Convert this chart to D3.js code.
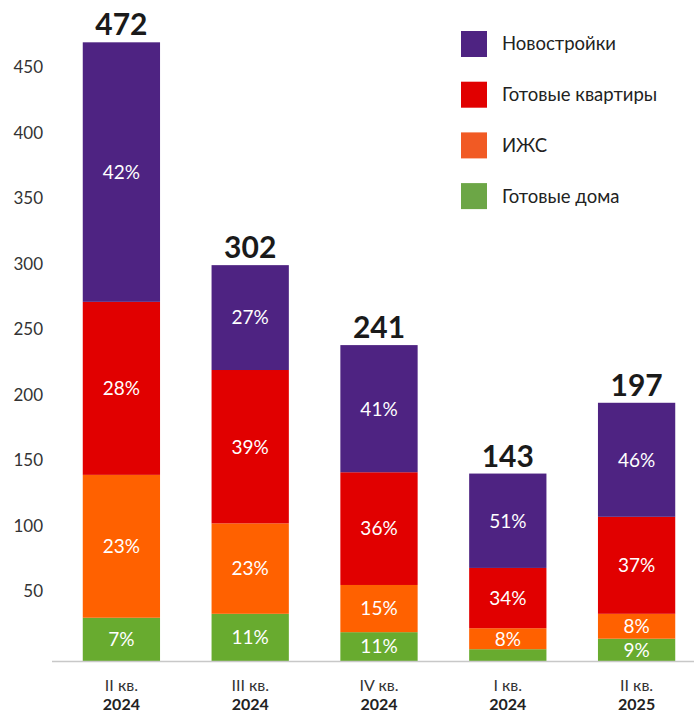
<!DOCTYPE html>
<html>
<head>
<meta charset="utf-8">
<script src="https://cdn.jsdelivr.net/npm/d3@7"></script>
<style>
  body { margin: 0; background: #fff; }
  svg { display: block; font-family: Lato, "Noto Sans", sans-serif; }
</style>
</head>
<body>
<div id="chart"></div>
<script>
// quarters (two-line labels)
var quarters = ["II кв.", "III кв.", "IV кв.", "I кв.", "II кв."];
var years = ["2024", "2024", "2024", "2024", "2025"];
var totals = [472, 302, 241, 143, 197];

// series, top to bottom in the legend
var seriesNames = ["Новостройки", "Готовые квартиры", "ИЖС", "Готовые дома"];
var novostroyki = [198, 80, 97, 72, 87];
var gotovyeKv = [132, 117, 86, 46, 74];
var izhs = [109, 69, 36, 16, 19];
var gotovyeDoma = [33, 36, 22, 9, 17];

// share labels as printed in the bars
var pctNov = [42, 27, 41, 51, 46];
var pctKv = [28, 39, 36, 34, 37];
var pctIzhs = [23, 23, 15, 8, 8];
var pctDoma = [7, 11, 11, null, 9];

var yTicks = [50, 100, 150, 200, 250, 300, 350, 400, 450];

var barColors = ["#4e2382", "#e10000", "#ff6100", "#68ab2f"];
var legendColors = ["#4e2382", "#e10000", "#f15a24", "#6ca646"];

var width = 694, height = 713;

var svg = d3.select("#chart")
    .append("svg")
    .attr("width", width)
    .attr("height", height);

// build rows for the stack
var keys = ["doma", "izhs", "kv", "nov"];
var data = quarters.map(function(q, i) {
    return {
        idx: i,
        doma: gotovyeDoma[i],
        izhs: izhs[i],
        kv: gotovyeKv[i],
        nov: novostroyki[i]
    };
});
var pcts = { nov: pctNov, kv: pctKv, izhs: pctIzhs, doma: pctDoma };
var colorOf = { nov: barColors[0], kv: barColors[1], izhs: barColors[2], doma: barColors[3] };

var x = d3.scaleBand()
    .domain(d3.range(quarters.length))
    .range([57, 701])
    .paddingInner(0.4)
    .paddingOuter(0.2);

var y = d3.scaleLinear()
    .domain([0, 473])
    .range([661, 41]);

var stacked = d3.stack().keys(keys)(data);

// y axis labels only
svg.append("g")
    .selectAll("text")
    .data(yTicks)
    .enter()
    .append("text")
    .attr("x", 43)
    .attr("y", function(d) { return y(d) - 4; })
    .attr("dy", "0.35em")
    .attr("text-anchor", "end")
    .style("font-size", "17px")
    .style("fill", "#333")
    .text(function(d) { return d; });

// bars
var layers = svg.append("g")
    .selectAll("g")
    .data(stacked)
    .enter()
    .append("g")
    .attr("fill", function(d) { return colorOf[d.key]; });

layers.selectAll("rect")
    .data(function(d) { return d; })
    .enter()
    .append("rect")
    .attr("x", function(d) { return x(d.data.idx); })
    .attr("y", function(d) { return y(d[1]); })
    .attr("width", x.bandwidth())
    .attr("height", function(d) { return y(d[0]) - y(d[1]); });

// percent labels
layers.each(function(layer) {
    d3.select(this).selectAll("text")
        .data(layer.filter(function(d) { return pcts[layer.key][d.data.idx] != null; }))
        .enter()
        .append("text")
        .attr("x", function(d) { return x(d.data.idx) + x.bandwidth() / 2; })
        .attr("y", function(d) { return (y(d[0]) + y(d[1])) / 2; })
        .attr("dy", "0.36em")
        .attr("text-anchor", "middle")
        .style("fill", "#fff")
        .style("font-size", "19px")
        .text(function(d) { return pcts[layer.key][d.data.idx] + "%"; });
});

// totals on top
svg.append("g")
    .selectAll("text")
    .data(totals)
    .enter()
    .append("text")
    .attr("x", function(d, i) { return x(i) + x.bandwidth() / 2; })
    .attr("y", function(d, i) { return y(d3.sum(keys, function(k) { return data[i][k]; })) - 7; })
    .attr("text-anchor", "middle")
    .style("font-size", "30px")
    .style("font-weight", "bold")
    .style("fill", "#1a1a1a")
    .text(function(d) { return d; });

// baseline
svg.append("line")
    .attr("x1", 52)
    .attr("x2", 694)
    .attr("y1", y(0) + 0.5)
    .attr("y2", y(0) + 0.5)
    .attr("stroke", "#c8c8c8")
    .attr("stroke-width", 1.5);

// x labels
var xl = svg.append("g")
    .selectAll("g")
    .data(quarters)
    .enter()
    .append("g")
    .attr("transform", function(d, i) { return "translate(" + (x(i) + x.bandwidth() / 2) + ",0)"; });
xl.append("text")
    .attr("y", 691)
    .attr("text-anchor", "middle")
    .style("font-size", "16px")
    .style("fill", "#333")
    .text(function(d) { return d; });
xl.append("text")
    .attr("y", 710)
    .attr("text-anchor", "middle")
    .style("font-size", "16px")
    .style("font-weight", "bold")
    .style("fill", "#222")
    .text(function(d, i) { return years[i]; });

// legend
var legend = svg.append("g")
    .selectAll("g")
    .data(seriesNames)
    .enter()
    .append("g")
    .attr("transform", function(d, i) { return "translate(461," + (31 + i * 50.7) + ")"; });
legend.append("rect")
    .attr("width", 26)
    .attr("height", 26)
    .attr("fill", function(d, i) { return legendColors[i]; });
legend.append("text")
    .attr("x", 41)
    .attr("y", 13)
    .attr("dy", "0.35em")
    .style("font-size", "18.5px")
    .style("fill", "#222")
    .text(function(d) { return d; });
</script>
</body>
</html>
